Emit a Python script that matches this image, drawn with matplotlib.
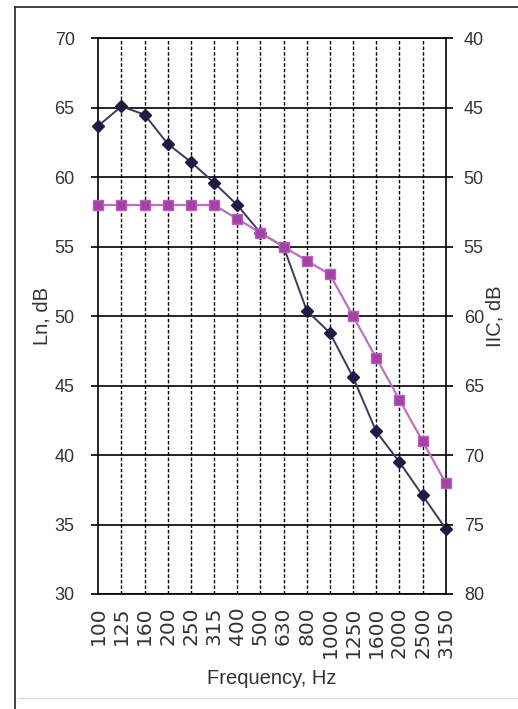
import matplotlib
matplotlib.use('Agg')
import matplotlib.pyplot as plt
from matplotlib.lines import Line2D

# Data
freqs = ['100', '125', '160', '200', '250', '315', '400', '500',
         '630', '800', '1000', '1250', '1600', '2000', '2500', '3150']
ln_measured = [63.7, 65.1, 64.5, 62.4, 61.1, 59.6, 58.0, 56.0,
               55.0, 50.4, 48.8, 45.6, 41.7, 39.5, 37.1, 34.7]
iic_contour = [52, 52, 52, 52, 52, 52, 53, 54,
               55, 56, 57, 60, 63, 66, 69, 72]

left_ticks = [30, 35, 40, 45, 50, 55, 60, 65, 70]
right_ticks = [40, 45, 50, 55, 60, 65, 70, 75, 80]

plt.rcParams['font.family'] = ['Liberation Sans', 'DejaVu Sans']
text_col = '#333333'

W, H = 518, 709
fig = plt.figure(figsize=(W / 100, H / 100), dpi=100)
fig.patch.set_facecolor('white')

# outer frame like the original screenshot
fig.add_artist(Line2D([15 / W, 15 / W], [0, 1 - 7 / H], color='#222222', lw=1.2))
fig.add_artist(Line2D([15 / W, 1], [1 - 7 / H, 1 - 7 / H], color='#222222', lw=1.2))
fig.add_artist(Line2D([17 / W, 1], [1 - 698 / H, 1 - 698 / H], color='#dddddd', lw=1.0))

left, right = 98.3 / W, 445.7 / W
top, bottom = 1 - 38.3 / H, 1 - 594 / H
ax = fig.add_axes([left, bottom, right - left, top - bottom])

x = list(range(len(freqs)))

ax.set_xlim(0, len(freqs) - 1)
ax.set_ylim(30, 70)
ax.set_yticks(left_ticks)
ax.set_xticks(x)
ax.set_xticklabels(freqs, rotation=90, fontsize=14.5, color=text_col,
                   family=['DejaVu Sans'], va='top')

# grid: solid horizontal, dashed vertical
for v in left_ticks:
    ax.axhline(v, color='black', lw=1.2, zorder=1)
for xi in x[1:-1]:
    ax.axvline(xi, color='black', lw=1.0, ls=(0, (2.5, 1.5)), zorder=1)

for s in ax.spines.values():
    s.set_color('black')
    s.set_linewidth(1.2)

ax.tick_params(axis='y', direction='out', length=5, width=1.2, pad=12,
               labelsize=13, labelcolor=text_col)
ax.tick_params(axis='x', length=0, pad=9)

ax.plot(x, ln_measured, color='#3a3a5c', lw=1.4, marker='D', markersize=6,
        markerfacecolor='#1c1c44', markeredgecolor='#1c1c44', zorder=3,
        clip_on=False)

ax.set_ylabel('Ln, dB', fontsize=14.5, color=text_col, labelpad=2)
ax.set_xlabel('Frequency, Hz', fontsize=14.5, color=text_col, labelpad=8)

ax2 = ax.twinx()
ax2.set_ylim(80, 40)
ax2.set_yticks(right_ticks)
ax2.tick_params(axis='y', direction='out', length=5, width=1.2, pad=8,
                labelsize=13, labelcolor=text_col)
for s in ax2.spines.values():
    s.set_visible(False)

ax2.plot(x, iic_contour, color='#c070c0', lw=1.6, marker='s', markersize=7.5,
         markerfacecolor='#a440a8', markeredgecolor='#b860b8', zorder=4,
         clip_on=False)

ax2.set_ylabel('IIC, dB', fontsize=14.5, color=text_col, rotation=90, labelpad=1)

fig.savefig('out.png', dpi=100, facecolor='white')
